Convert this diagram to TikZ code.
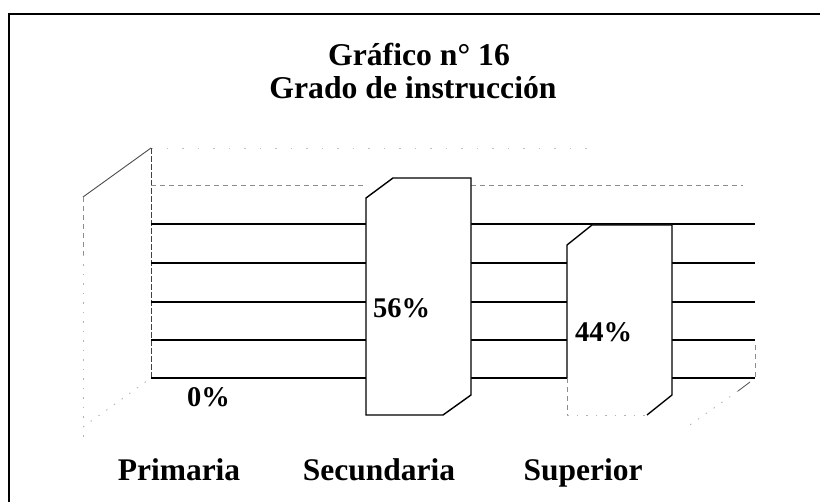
\documentclass[tikz,border=0pt]{standalone}
\usepackage{fontspec}
\setmainfont{Liberation Serif}
\begin{document}
\begin{tikzpicture}[x=1pt,y=-1pt,
  grid/.style={line width=1.4pt,black},
  faint/.style={line width=0.8pt,black!45,dash pattern=on 5pt off 4pt},
  wallv/.style={line width=0.8pt,black!75,dash pattern=on 6pt off 2pt},
  faintdot/.style={line width=0.8pt,black!30,dash pattern=on 1.5pt off 8pt},
  barline/.style={line width=1.4pt,black,fill=white,line join=miter},
  title/.style={font=\fontsize{31.7}{34}\selectfont\bfseries,anchor=base,inner sep=0pt},
  cat/.style={font=\fontsize{31.5}{34}\selectfont\bfseries,anchor=base,inner sep=0pt},
  pct/.style={font=\fontsize{28.5}{30}\selectfont\bfseries,anchor=base west,inner sep=0pt}]
\useasboundingbox (0,0) rectangle (820,502);
% frame
\draw[line width=2.2pt] (9,502) -- (9,14) -- (820,14);
% back wall / side wall (faint)
\draw[line width=0.6pt,black!25,dash pattern=on 1.5pt off 14pt] (151,148) -- (600,148);
\draw[wallv] (151,148) -- (151,378);
\draw[line width=0.9pt,black!70] (83,197) -- (151,148);
\draw[faint] (83,197) -- (83,255);
\draw[faintdot] (83,255) -- (83,440);
\draw[faintdot] (83,427) -- (151,378);
\draw[faint] (151,185) -- (366,185);
\draw[faint] (471,185) -- (743,185);
% gridlines
\foreach \y in {224,263,302,340,378} {
  \draw[grid] (151,\y) -- (366,\y);
}
\draw[grid] (471,224) -- (755,224);
\foreach \y in {263,302,340,378} {
  \draw[grid] (471,\y) -- (567,\y);
  \draw[grid] (672,\y) -- (755,\y);
}
\draw[faint] (755,345) -- (755,378);
\draw[line width=0.8pt,black!70] (750,382) -- (738,391);
\draw[faintdot] (738,391) -- (687,427);
% bar Secundaria
\draw[barline] (366,198) -- (393,178) -- (471,178) -- (471,395) -- (443,415) -- (366,415) -- cycle;
% bar Superior
\fill[white] (567,245) -- (592,225) -- (672,225) -- (672,395) -- (647,415) -- (567,415) -- cycle;
\draw[barline,fill=none] (567,378) -- (567,245) -- (592,225) -- (672,225) -- (672,395) -- (647,415);
\draw[faint] (567,378) -- (567,415);
\draw[faintdot] (567,415) -- (647,415);
% texts
\node[title] (t1) at (419,66) {Gráfico n° 16};
\node[title] (t2) at (413,99) {Grado de instrucción};
\node[pct] (p0) at (187,407) {0\%};
\node[pct] (p1) at (373,318) {56\%};
\node[pct] (p2) at (575,342) {44\%};
\node[cat] (c0) at (179,481) {Primaria};
\node[cat] (c1) at (379,481) {Secundaria};
\node[cat] (c2) at (583,481) {Superior};
\end{tikzpicture}
\end{document}
